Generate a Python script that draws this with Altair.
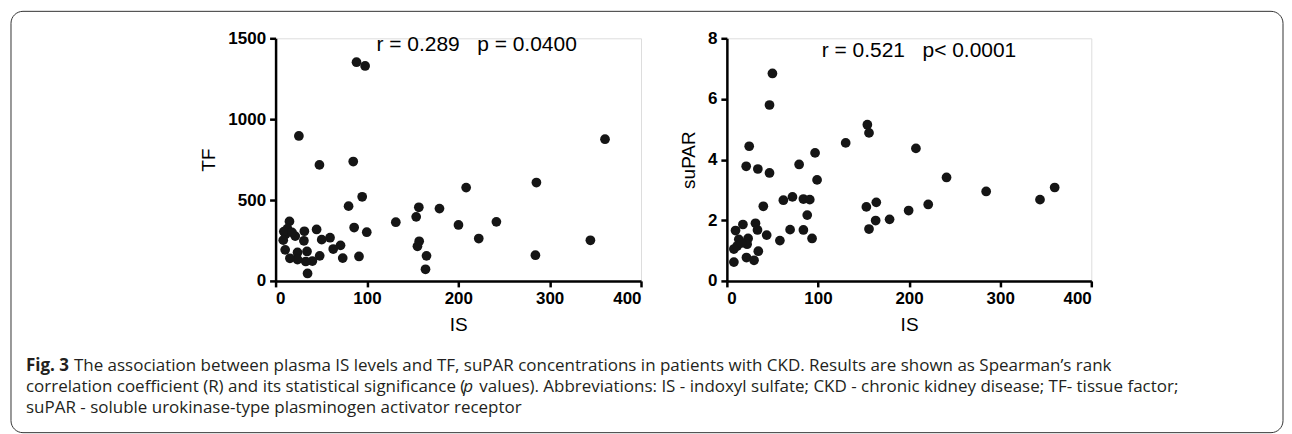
import altair as alt
import pandas as pd

# ---- data ----
IS_TF = [88.6, 98.0, 25.5, 48.0, 85.0, 360.6, 285.5, 208.6, 94.8, 79.9, 156.8, 179.4, 153.9,
         131.6, 241.7, 200.2, 86.0, 99.8, 222.4, 344.6, 157.2, 155.3, 165.2, 164.1, 284.4,
         91.3, 73.5, 71.1, 63.1, 59.6, 50.5, 44.9, 48.3, 40.3, 35.0, 34.4, 31.5, 31.0, 33.0,
         24.0, 24.0, 21.5, 15.2, 13.0, 11.0, 9.0, 8.4, 10.5, 15.7, 18.0]
TF = [1352, 1329, 896, 717, 738, 876, 608, 577, 520, 462, 455, 447, 396,
      363, 365, 346, 330, 301, 262, 251, 245, 214, 155, 72, 159,
      151, 141, 220, 197, 267, 255, 318, 155, 123, 46, 182, 307, 248, 120,
      176, 132, 277, 368, 323, 288, 305, 252, 192, 140, 300]

IS_SU = [50.0, 46.8, 154.2, 156.0, 130.4, 207.5, 24.5, 21.2, 34.0, 46.8, 79.3, 96.8, 99.0,
         241.1, 284.6, 359.8, 343.7, 221.0, 199.5, 178.6, 164.0, 153.1, 163.3, 156.0, 62.0,
         72.0, 84.0, 91.0, 88.2, 40.0, 69.4, 84.0, 93.5, 58.2, 43.7, 34.5, 31.4, 33.6, 17.6,
         9.5, 7.7, 7.7, 21.5, 29.8, 23.3, 22.2, 13.1, 11.3, 16.0]
SUPAR = [6.84, 5.80, 5.15, 4.88, 4.55, 4.37, 4.44, 3.78, 3.69, 3.56, 3.84, 4.22, 3.33,
         3.41, 2.95, 3.08, 2.68, 2.52, 2.32, 2.03, 2.59, 2.44, 1.99, 1.71, 2.66,
         2.77, 2.70, 2.68, 2.17, 2.46, 1.69, 1.68, 1.40, 1.33, 1.51, 0.98, 1.90, 1.68, 1.86,
         1.66, 1.05, 0.62, 0.77, 0.68, 1.40, 1.21, 1.37, 1.15, 1.25]

X_TICKS = [0, 100, 200, 300, 400]
TF_TICKS = [0, 500, 1000, 1500]
SU_TICKS = [0, 2, 4, 6, 8]

NB = "\u00a0"
NOTE_LEFT = ["r = 0.289" + NB * 3 + "p = 0.0400"]
NOTE_RIGHT = ["r = 0.521" + NB * 3 + "p< 0.0001"]

CAP_BOLD = ["Fig. 3"]
CAP_LINE1 = ["The association between plasma IS levels and TF, suPAR concentrations in patients with CKD. Results are shown as Spearman\u2019s rank"]
CAP_LINE2A = ["correlation coefficient (R) and its statistical significance ("]
CAP_LINE2P = ["p"]
CAP_LINE2B = ["values). Abbreviations: IS - indoxyl sulfate; CKD - chronic kidney disease; TF- tissue factor;"]
CAP_LINE3 = ["suPAR - soluble urokinase-type plasminogen activator receptor"]

FONT = "Liberation Sans"
CAP_FONT = "Open Sans"
CAP_SIZE = 17
W_L, W_R, H = 366, 365, 243

axis_common = dict(domainColor="#000000", domainWidth=2.5, tickColor="#000000", tickWidth=2.5,
                   tickSize=6, labelFont=FONT, labelFontWeight="bold", labelFontSize=17,
                   labelColor="#000000", titleFont=FONT, titleFontWeight="normal",
                   titleFontSize=19, titleColor="#000000", grid=False, labelPadding=4,
                   titlePadding=9, format="d")

left_df = pd.DataFrame({"IS": IS_TF, "TF": TF})
right_df = pd.DataFrame({"IS": IS_SU, "suPAR": SUPAR})


def text_layer(values, x, y, size, weight="normal", font=FONT, color="#000000", style="normal"):
    return alt.Chart(pd.DataFrame({"t": values})).mark_text(
        align="left", baseline="middle", font=font, fontSize=size, fontWeight=weight,
        fontStyle=style, color=color).encode(text="t:N", x=alt.value(x), y=alt.value(y))


pts_l = alt.Chart(left_df).mark_circle(size=95, color="#151515", opacity=1).encode(
    x=alt.X("IS:Q", scale=alt.Scale(domain=[0, 400], nice=False),
            axis=alt.Axis(values=X_TICKS, title="IS", **axis_common)),
    y=alt.Y("TF:Q", scale=alt.Scale(domain=[0, 1500], nice=False),
            axis=alt.Axis(values=TF_TICKS, title="TF", **axis_common)),
)

border = alt.Chart(pd.DataFrame({"a": [0]})).mark_rect(
    fill="transparent", stroke="#333333", strokeWidth=1, cornerRadius=12).encode(
    x=alt.value(-265), x2=alt.value(1009), y=alt.value(-27), y2=alt.value(395))

cap_color = "#231f20"
CAP_X = -250
left = alt.layer(
    pts_l,
    text_layer(NOTE_LEFT, 101, 7, 21),
    border,
    text_layer(CAP_BOLD, CAP_X, 328, CAP_SIZE, "bold", CAP_FONT, cap_color),
    text_layer(CAP_LINE1, CAP_X + 48, 328, CAP_SIZE, "normal", CAP_FONT, cap_color),
    text_layer(CAP_LINE2A, CAP_X, 349, CAP_SIZE, "normal", CAP_FONT, cap_color),
    text_layer(CAP_LINE2P, CAP_X + 438, 349, CAP_SIZE, "normal", CAP_FONT, cap_color, "italic"),
    text_layer(CAP_LINE2B, CAP_X + 454, 349, CAP_SIZE, "normal", CAP_FONT, cap_color),
    text_layer(CAP_LINE3, CAP_X, 370, CAP_SIZE, "normal", CAP_FONT, cap_color),
).properties(width=W_L, height=H)

pts_r = alt.Chart(right_df).mark_circle(size=95, color="#151515", opacity=1).encode(
    x=alt.X("IS:Q", scale=alt.Scale(domain=[0, 400], nice=False),
            axis=alt.Axis(values=X_TICKS, title="IS", **axis_common)),
    y=alt.Y("suPAR:Q", scale=alt.Scale(domain=[0, 8], nice=False),
            axis=alt.Axis(values=SU_TICKS, title="suPAR", **axis_common)),
)

right = alt.layer(pts_r, text_layer(NOTE_RIGHT, 95, 13, 21)).properties(width=W_R, height=H)

chart = alt.hconcat(left, right, spacing=86, bounds="flush").properties(
    padding={"left": 2, "top": 2, "right": 0, "bottom": 0}
).configure_view(stroke=None).configure(background="white")

chart.save("out.html", embed_options={"renderer": "svg", "actions": False})
